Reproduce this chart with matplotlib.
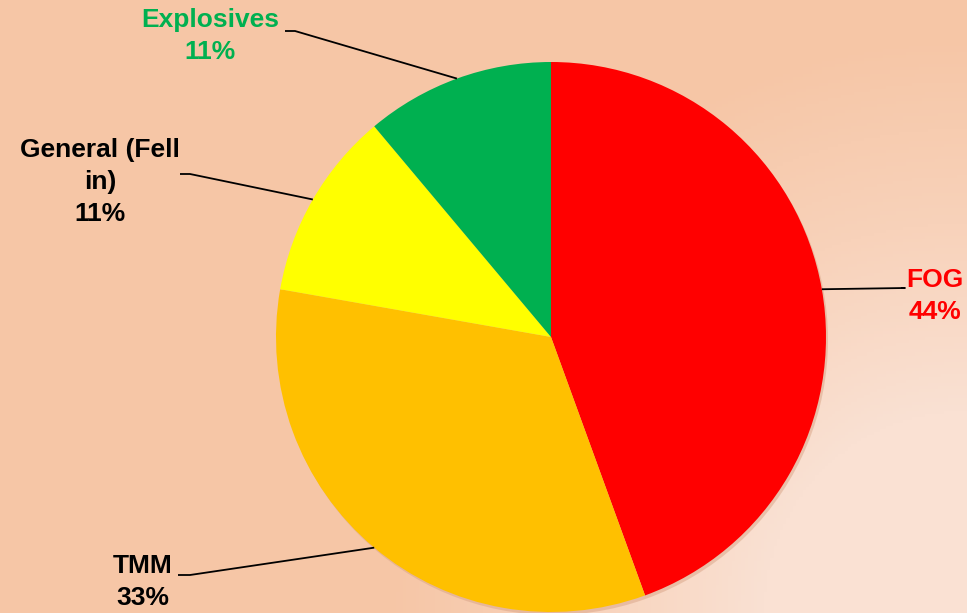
import numpy as np
import matplotlib.pyplot as plt
from matplotlib.patches import Circle
from matplotlib.colors import LinearSegmentedColormap

# data
categories = ['FOG', 'TMM', 'General (Fell\nin)', 'Explosives']
counts = [4, 3, 1, 1]
slice_colors = ['#FF0000', '#FFC000', '#FFFF00', '#00B050']
label_colors = ['#FF0000', '#000000', '#000000', '#00B050']

W, H = 967, 613
fig = plt.figure(figsize=(W / 100, H / 100), dpi=100)
ax = fig.add_axes([0, 0, 1, 1])

# background: radial gradient, light peach around bottom-right corner -> orange elsewhere
cmap = LinearSegmentedColormap.from_list('bg', ['#FAE1D3', '#F8D2BA', '#F6C6A6'])
px, py = np.meshgrid(np.linspace(0, W, 300), np.linspace(0, H, 200))
dist = np.clip((np.hypot(W - px, H - py) - 200) / 380, 0, 1)
ax.imshow(dist, cmap=cmap, extent=(0, W, 0, H), origin='upper', aspect='auto', zorder=0)

cx, cy, r = 551, H - 337, 275
# soft shadow under the pie
ax.add_patch(Circle((cx + 2, cy - 3), r, facecolor='#D9A386', edgecolor='none', alpha=0.5, zorder=1))

wedges, _ = ax.pie(counts, colors=slice_colors, startangle=90, counterclock=False,
                   center=(cx, cy), radius=r, frame=True,
                   wedgeprops=dict(linewidth=0, zorder=2))
ax.set_xlim(0, W)
ax.set_ylim(0, H)
ax.set_aspect('auto')
ax.axis('off')

total = sum(counts)
# label centre and leader-line elbow, in pixels from top-left
text_pos = [(935, 296), (143, 582), (100, 182), (210, 36)]
elbow = [(901, 288), (178, 575), (180, 174), (285, 31)]
knee = [(905, 288), (190, 575), (190, 174), (295, 31)]

for w, cat, n, col, tp, e, k in zip(wedges, categories, counts, label_colors, text_pos, elbow, knee):
    mid = np.deg2rad((w.theta1 + w.theta2) / 2)
    ex, ey = cx + r * np.cos(mid), cy + r * np.sin(mid)
    ax.plot([e[0], k[0], ex], [H - e[1], H - k[1], ey], color='black', lw=1.3, zorder=3,
            solid_capstyle='butt')
    pct = round(100 * n / total)
    ax.text(tp[0], H - tp[1], f'{cat}\n{pct}%', ha='center', va='center', color=col,
            fontsize=19, fontweight='bold', family='Liberation Sans', linespacing=1.42, zorder=4)

fig.savefig('out.png', dpi=100)
